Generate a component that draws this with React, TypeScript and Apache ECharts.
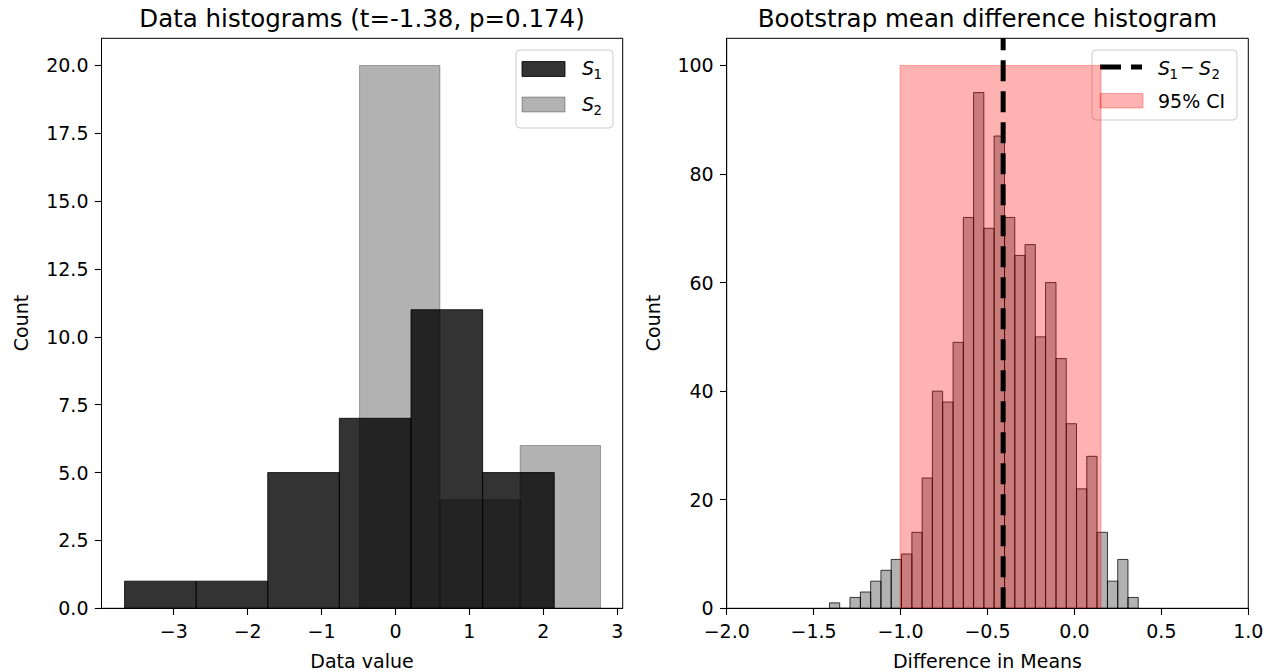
import React, { useEffect, useRef } from "react";
import * as echarts from "echarts";

// ---- Left panel: histograms of the two samples ----
const s1Edges = [-3.665, -2.696, -1.728, -0.759, 0.21, 1.179, 2.148];
const s1Counts = [1, 1, 5, 7, 11, 5];
const s2Edges = [-0.486, 0.601, 1.687, 2.774];
const s2Counts = [20, 4, 6];
const leftXTicks = [-3, -2, -1, 0, 1, 2, 3];
const leftYTicks = [0, 2.5, 5, 7.5, 10, 12.5, 15, 17.5, 20];
const leftXRange = [-3.977, 3.074];
const leftYRange = [0, 21];

// ---- Right panel: bootstrap distribution of the mean difference ----
const bootEdges = [
  -1.409, -1.35, -1.291, -1.231, -1.172, -1.113, -1.054, -0.995, -0.935, -0.876,
  -0.817, -0.758, -0.698, -0.639, -0.58, -0.521, -0.462, -0.402, -0.343, -0.284,
  -0.225, -0.166, -0.106, -0.047, 0.012, 0.071, 0.13, 0.19, 0.249, 0.308, 0.367,
];
const bootCounts = [
  1, 0, 2, 3, 5, 7, 9, 10, 14, 24, 40, 38, 49, 72, 95, 70, 87, 72, 65, 67, 50, 60,
  46, 34, 22, 28, 14, 5, 9, 2,
];
const meanDiff = -0.41;
const ciBounds = [-1.003, 0.153];
const ciHeight = 100;
const rightXTicks = [-2, -1.5, -1, -0.5, 0, 0.5, 1];
const rightYTicks = [0, 20, 40, 60, 80, 100];
const rightXRange = [-2, 1];
const rightYRange = [0, 105];

const FONT = "DejaVu Sans";
const MINUS = "\u2212";

const signed = (v: number, digits: number) =>
  (v < 0 ? MINUS : "") + Math.abs(v).toFixed(digits);

// [left edge, right edge, count] triples for the custom bar renderer
const toBins = (edges: number[], counts: number[]) =>
  counts.map((c, i) => [edges[i], edges[i + 1], c]);

const rectRenderer = (fill: string, stroke: string) => (_params: any, api: any) => {
  const topLeft = api.coord([api.value(0), api.value(2)]);
  const bottomRight = api.coord([api.value(1), 0]);
  return {
    type: "rect",
    shape: {
      x: topLeft[0],
      y: topLeft[1],
      width: bottomRight[0] - topLeft[0],
      height: bottomRight[1] - topLeft[1],
    },
    style: { fill, stroke, lineWidth: 1 },
  };
};

const valueAxis = (
  gridIndex: number,
  range: number[],
  ticks: number[],
  fmt: (v: number) => string
) => ({
  type: "value",
  gridIndex,
  min: range[0],
  max: range[1],
  axisLine: { show: true, onZero: false, lineStyle: { color: "#000", width: 1 } },
  axisTick: {
    show: true,
    length: 6.7,
    lineStyle: { color: "#000", width: 1.1 },
    customValues: ticks,
  },
  axisLabel: {
    show: true,
    customValues: ticks,
    formatter: fmt,
    color: "#000",
    fontSize: 19,
    fontFamily: FONT,
    margin: 13,
  },
  splitLine: { show: false },
});

const text = (
  x: number,
  y: number,
  str: string,
  opts: Record<string, any> = {}
) => ({
  type: "text",
  x,
  y,
  rotation: opts.rotation || 0,
  style: {
    text: str,
    fill: "#000",
    font: `${opts.italic ? "italic " : ""}${opts.size || 19}px "${FONT}"`,
    align: opts.align || "left",
    verticalAlign: "middle",
  },
});

// Math-style "S" with a subscript index
const mathS = (x: number, y: number, idx: string, subDx = 11.5) => [
  text(x, y, "S", { italic: true }),
  text(x + subDx, y + 6, idx, { size: 13.3 }),
];

const legendFrame = (x: number, y: number, w: number, h: number) => ({
  type: "rect",
  shape: { x, y, width: w, height: h, r: 4 },
  style: { fill: "rgba(255,255,255,0.8)", stroke: "#cccccc", lineWidth: 1 },
});

const option: any = {
  animation: false,
  backgroundColor: "#fff",
  textStyle: { fontFamily: FONT },
  grid: [
    {
      left: 101.5,
      top: 38.3,
      width: 521.2,
      height: 570,
      show: true,
      borderColor: "#000",
      borderWidth: 1,
      backgroundColor: "transparent",
    },
    {
      left: 726.7,
      top: 38.3,
      width: 521.6,
      height: 570,
      show: true,
      borderColor: "#000",
      borderWidth: 1,
      backgroundColor: "transparent",
    },
  ],
  xAxis: [
    valueAxis(0, leftXRange, leftXTicks, (v) => signed(v, 0)),
    valueAxis(1, rightXRange, rightXTicks, (v) => signed(v, 1)),
  ],
  yAxis: [
    valueAxis(0, leftYRange, leftYTicks, (v) => signed(v, 1)),
    valueAxis(1, rightYRange, rightYTicks, (v) => signed(v, 0)),
  ],
  series: [
    {
      name: "S1",
      type: "custom",
      xAxisIndex: 0,
      yAxisIndex: 0,
      clip: true,
      silent: true,
      data: toBins(s1Edges, s1Counts),
      encode: { x: [0, 1], y: 2 },
      renderItem: rectRenderer("rgba(0,0,0,0.8)", "rgba(0,0,0,0.8)"),
    },
    {
      name: "S2",
      type: "custom",
      xAxisIndex: 0,
      yAxisIndex: 0,
      clip: true,
      silent: true,
      data: toBins(s2Edges, s2Counts),
      encode: { x: [0, 1], y: 2 },
      renderItem: rectRenderer("rgba(0,0,0,0.3)", "rgba(0,0,0,0.3)"),
    },
    {
      name: "bootstrap",
      type: "custom",
      xAxisIndex: 1,
      yAxisIndex: 1,
      clip: true,
      silent: true,
      data: toBins(bootEdges, bootCounts),
      encode: { x: [0, 1], y: 2 },
      renderItem: rectRenderer("rgba(0,0,0,0.3)", "rgba(0,0,0,0.75)"),
    },
    {
      name: "95% CI",
      type: "custom",
      xAxisIndex: 1,
      yAxisIndex: 1,
      clip: true,
      silent: true,
      data: [[ciBounds[0], ciBounds[1], ciHeight]],
      encode: { x: [0, 1], y: 2 },
      renderItem: rectRenderer("rgba(255,0,0,0.3)", "rgba(255,0,0,0.3)"),
    },
    {
      name: "S1 - S2",
      type: "line",
      xAxisIndex: 1,
      yAxisIndex: 1,
      silent: true,
      symbol: "none",
      z: 5,
      data: [
        [meanDiff, rightYRange[0]],
        [meanDiff, rightYRange[1]],
      ],
      lineStyle: { color: "#000", width: 5, type: [21, 10] },
    },
  ],
  graphic: [
    // titles
    text(362, 18, "Data histograms (t=-1.38, p=0.174)", { size: 24.5, align: "center" }),
    text(987.5, 18, "Bootstrap mean difference histogram", { size: 24.5, align: "center" }),
    // axis names
    text(362, 661, "Data value", { align: "center" }),
    text(987.5, 661, "Difference in Means", { align: "center" }),
    text(21, 323, "Count", { align: "center", rotation: Math.PI / 2 }),
    text(653, 323, "Count", { align: "center", rotation: Math.PI / 2 }),
    // left legend
    legendFrame(516, 50, 97, 78),
    {
      type: "rect",
      shape: { x: 522, y: 61.5, width: 43, height: 15 },
      style: { fill: "rgba(0,0,0,0.8)", stroke: "rgba(0,0,0,0.8)", lineWidth: 1 },
    },
    {
      type: "rect",
      shape: { x: 522, y: 97, width: 43, height: 15 },
      style: { fill: "rgba(0,0,0,0.3)", stroke: "rgba(0,0,0,0.3)", lineWidth: 1 },
    },
    ...mathS(582, 68, "1"),
    ...mathS(582, 104, "2"),
    // right legend
    legendFrame(1092, 50, 145, 70),
    {
      type: "line",
      shape: { x1: 1100, y1: 67, x2: 1142, y2: 67 },
      style: { stroke: "#000", lineWidth: 5, lineDash: [21, 10] },
    },
    {
      type: "rect",
      shape: { x: 1100, y: 93.5, width: 43, height: 14.5 },
      style: { fill: "rgba(255,0,0,0.3)", stroke: "rgba(255,0,0,0.3)", lineWidth: 1 },
    },
    ...mathS(1158, 68, "1"),
    text(1180, 67, MINUS, { size: 17 }),
    ...mathS(1199, 68, "2", 12.5),
    text(1158, 101, "95% CI"),
  ],
};

export default function App() {
  const ref = useRef<HTMLDivElement>(null);
  useEffect(() => {
    const chart = echarts.init(ref.current!, undefined, { renderer: "svg" });
    chart.setOption(option);
    return () => chart.dispose();
  }, []);
  return (
    <div
      ref={ref}
      style={{ position: "absolute", left: 0, top: 0, width: 1275, height: 672 }}
    />
  );
}
